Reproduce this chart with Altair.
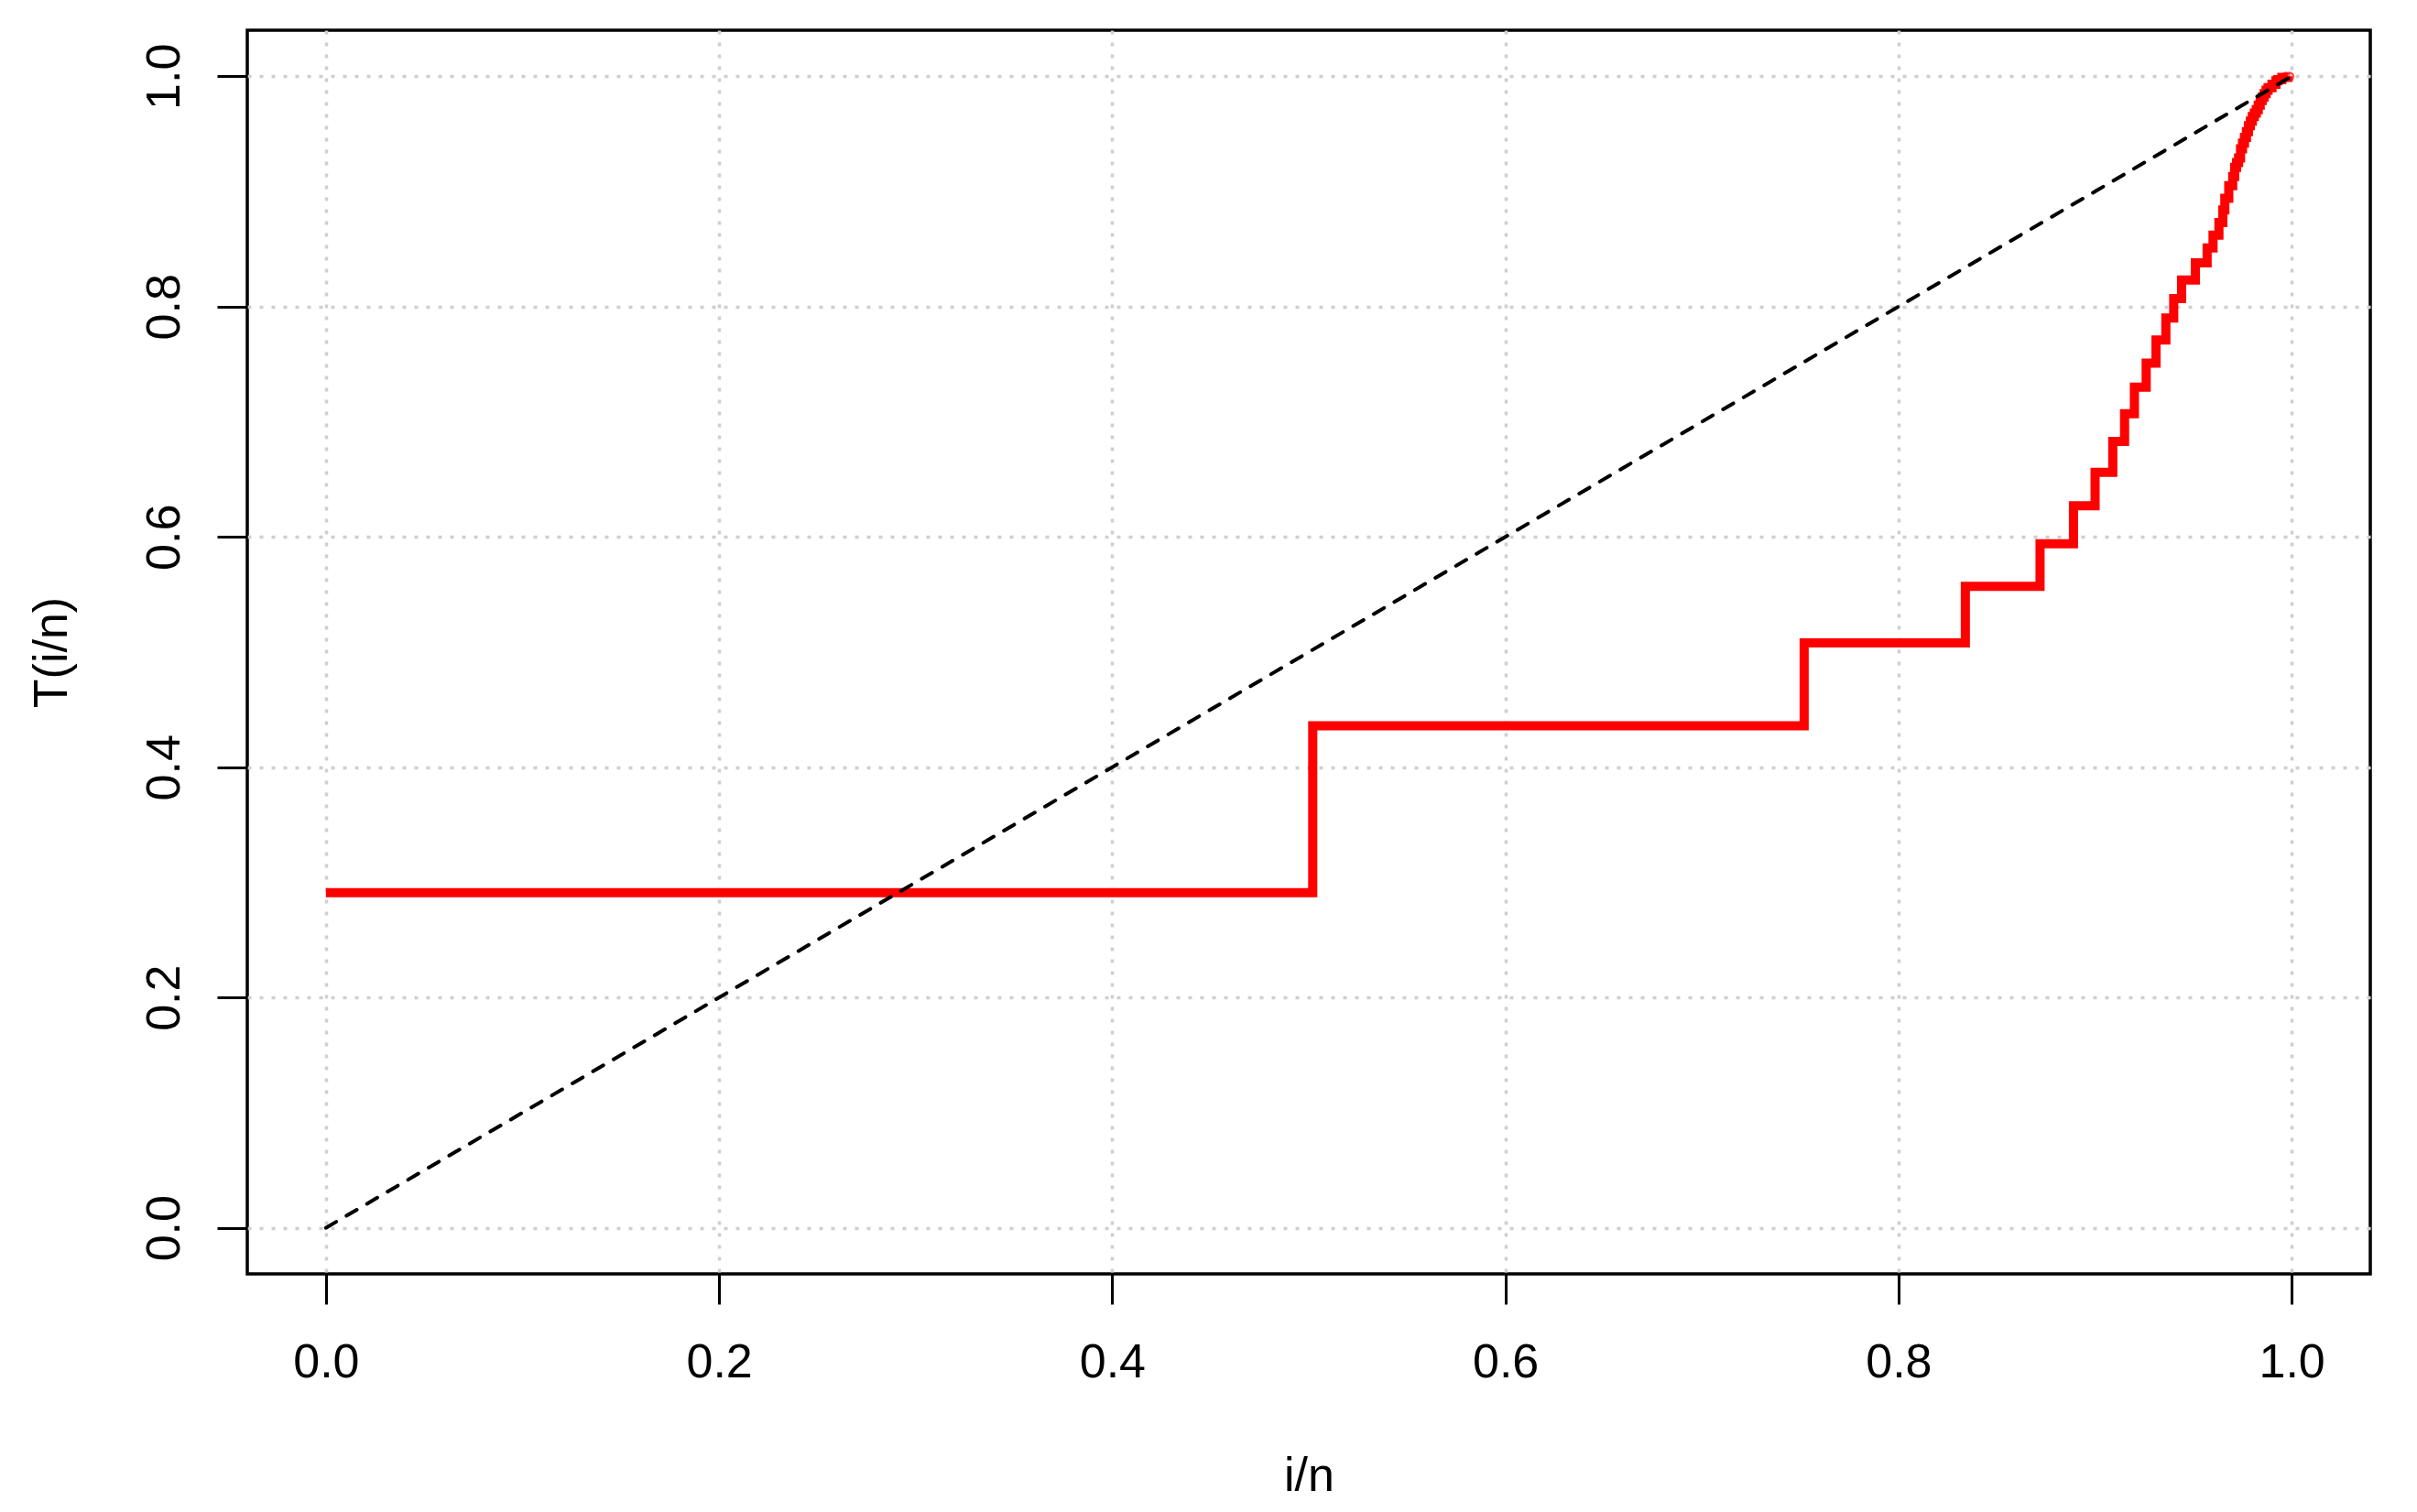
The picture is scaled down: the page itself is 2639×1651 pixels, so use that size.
import altair as alt
import pandas as pd

# Step function T(i/n) (step-after points)
step_x = [0.000, 0.502, 0.752, 0.834, 0.872, 0.889, 0.900, 0.909, 0.915, 0.920,
          0.926, 0.931, 0.936, 0.940, 0.944, 0.951, 0.957, 0.960, 0.963, 0.965,
          0.966, 0.968, 0.970, 0.971, 0.972, 0.973, 0.974, 0.975, 0.976, 0.977,
          0.978, 0.979, 0.980, 0.981, 0.982, 0.983, 0.984, 0.985, 0.986, 0.987,
          0.988, 0.990, 0.992, 0.993, 0.995, 0.998]
step_y = [0.291, 0.436, 0.508, 0.557, 0.594, 0.627, 0.656, 0.683, 0.707, 0.730,
          0.751, 0.771, 0.790, 0.807, 0.823, 0.838, 0.851, 0.862, 0.873, 0.884,
          0.894, 0.905, 0.913, 0.921, 0.925, 0.929, 0.937, 0.942, 0.947, 0.952,
          0.957, 0.961, 0.965, 0.968, 0.971, 0.975, 0.979, 0.982, 0.985, 0.988,
          0.990, 0.993, 0.996, 0.997, 0.999, 1.000]

# end markers (open circles)
end_x = [0.997, 0.999]
end_y = [1.000, 1.000]

# diagonal reference line
diag_x = [0.0, 1.0]
diag_y = [0.0, 1.0]

tick_values = [0.0, 0.2, 0.4, 0.6, 0.8, 1.0]

FONT = "Liberation Sans"

steps = pd.DataFrame({"x": step_x, "y": step_y})
ends = pd.DataFrame({"x": end_x, "y": end_y})
diag = pd.DataFrame({"x": diag_x, "y": diag_y})

xscale = alt.Scale(domain=[-0.04, 1.04], nice=False, zero=False)
yscale = alt.Scale(domain=[-0.04, 1.04], nice=False, zero=False)

W = 2318
H = 1358

xaxis = alt.Axis(
    title="i/n", values=tick_values, format=".1f",
    domain=False, ticks=True, tickSize=33, tickWidth=3, tickColor="black",
    labelFont=FONT, labelFontSize=52, labelColor="black",
    labelBaseline="alphabetic", labelPadding=79, labelFlush=False, labelOverlap=False,
    grid=True, gridColor="#CFCFCF", gridWidth=3.5, gridDash=[4, 9],
    titleFont=FONT, titleFontSize=52, titleFontWeight="normal", titleColor="black",
    titleBaseline="alphabetic", titleAlign="center", titleX=W / 2, titleY=236,
)
yaxis = alt.Axis(
    title="T(i/n)", values=tick_values, format=".1f",
    domain=False, ticks=True, tickSize=33, tickWidth=3, tickColor="black",
    labelFont=FONT, labelFontSize=52, labelColor="black", labelAngle=-90,
    labelAlign="center", labelBaseline="alphabetic", labelPadding=42,
    labelFlush=False, labelOverlap=False,
    grid=True, gridColor="#CFCFCF", gridWidth=3.5, gridDash=[4, 9],
    titleFont=FONT, titleFontSize=52, titleFontWeight="normal", titleColor="black",
    titleAngle=-90, titleBaseline="alphabetic", titleAlign="center",
    titleX=-198, titleY=H / 2,
)

red = alt.Chart(steps).mark_line(
    color="#FF0000", strokeWidth=10, interpolate="step-after", strokeJoin="miter", strokeCap="butt"
).encode(
    x=alt.X("x:Q", scale=xscale, axis=xaxis),
    y=alt.Y("y:Q", scale=yscale, axis=yaxis),
)

pts = alt.Chart(ends).mark_point(
    shape="circle", filled=False, color="#FF0000", size=60, strokeWidth=2.5
).encode(x=alt.X("x:Q", scale=xscale), y=alt.Y("y:Q", scale=yscale))

dash = alt.Chart(diag).mark_line(
    color="black", strokeWidth=4, strokeDash=[13, 13], strokeCap="round"
).encode(x=alt.X("x:Q", scale=xscale), y=alt.Y("y:Q", scale=yscale))

chart = alt.layer(red, pts, dash).properties(
    width=W, height=H,
    autosize=alt.AutoSizeParams(type="none"),
    padding={"left": 262, "top": 25, "right": 40, "bottom": 250},
    background="white",
).configure_view(
    stroke="black", strokeWidth=3.5, fill="white"
)

chart.save("out.html", embed_options={"renderer": "svg", "actions": False})
